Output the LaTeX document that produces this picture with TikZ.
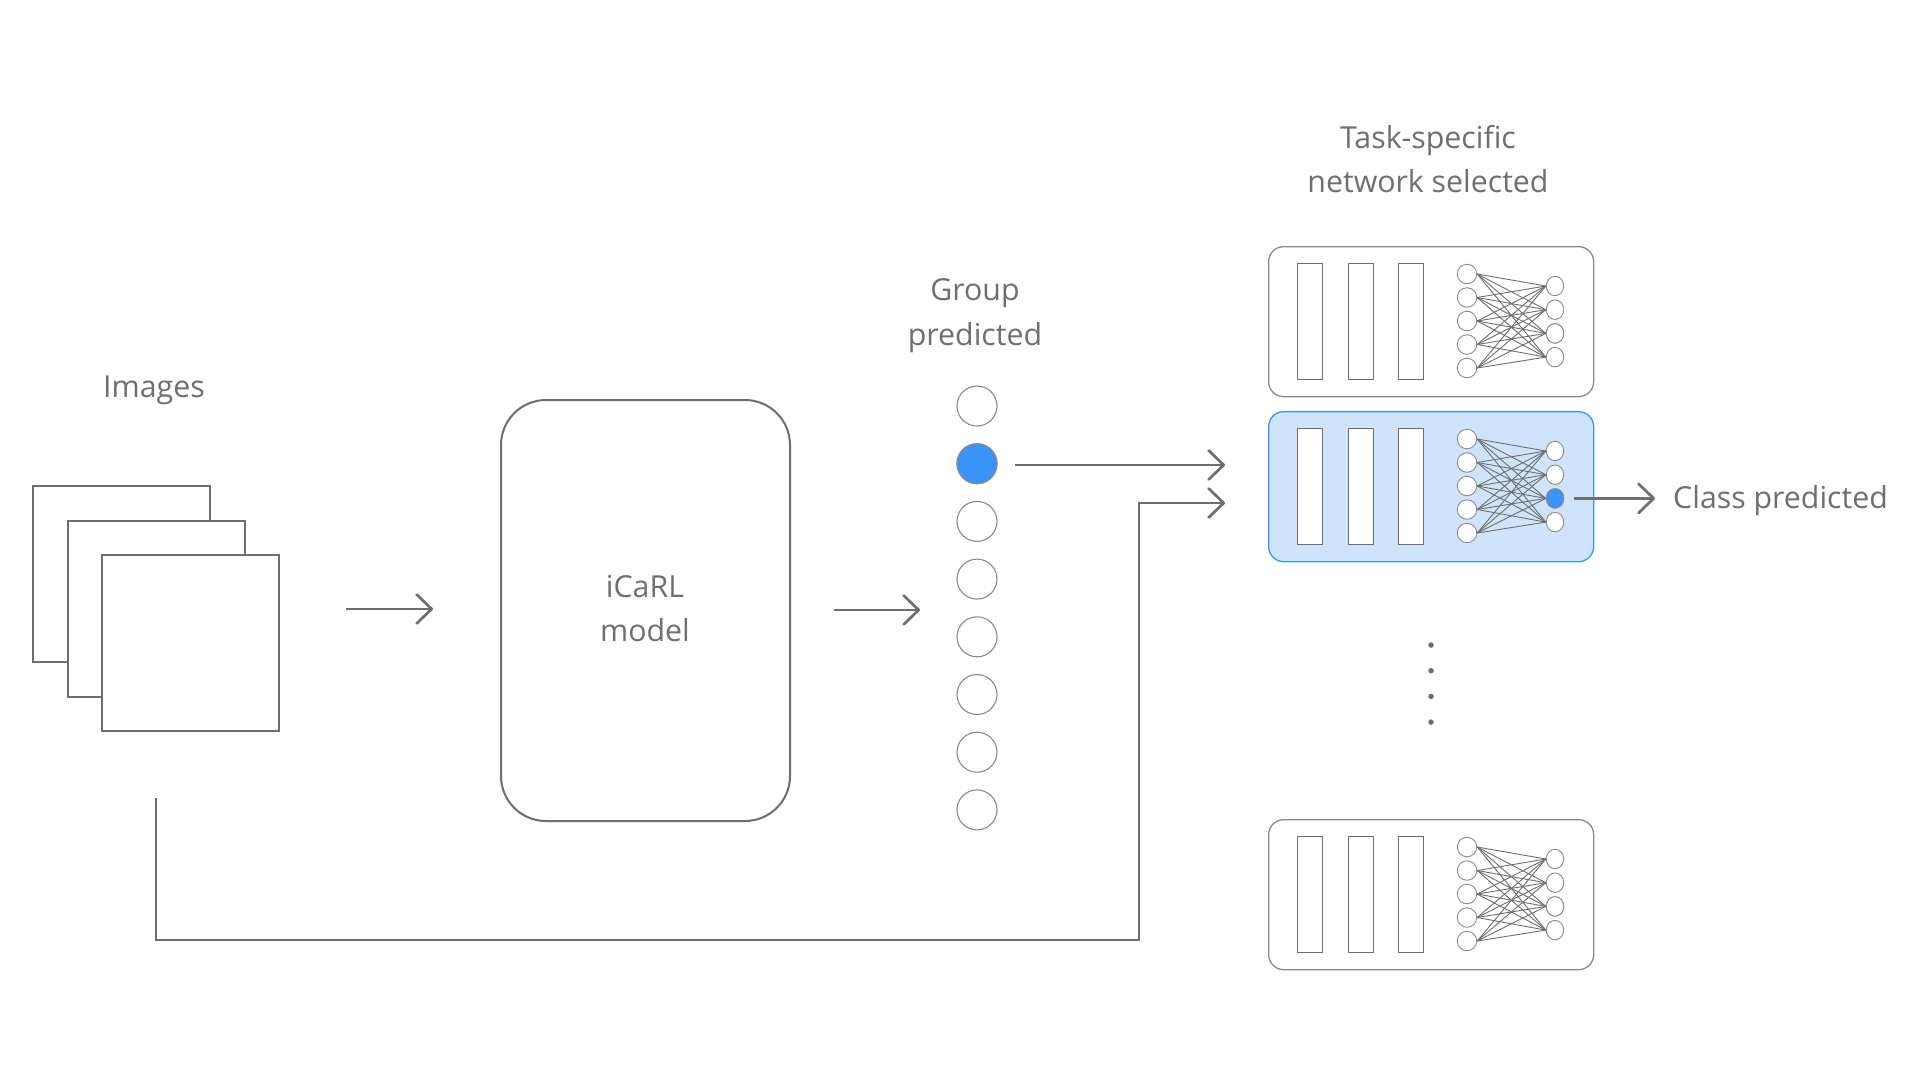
\documentclass[tikz,border=0pt]{standalone}
\usepackage{fontspec}
\setmainfont{Open Sans}
\usetikzlibrary{arrows.meta,shapes.geometric}
\definecolor{ink}{HTML}{6E6E6E}
\definecolor{txt}{HTML}{6F6F6F}
\definecolor{frame}{HTML}{8A8A8A}
\definecolor{selfill}{HTML}{CFE4FB}
\definecolor{seldraw}{HTML}{3D94F6}
\definecolor{hot}{HTML}{3A94F8}
\tikzset{
  lbl/.style={text=txt, font=\fontsize{30.3}{44}\selectfont, anchor=base, inner sep=0pt},
  imgsheet/.style={draw=ink, line width=2pt, fill=white, minimum width=177pt, minimum height=176pt, inner sep=0pt, anchor=north west},
  modelbox/.style={draw=ink, line width=2pt, rounded corners=45pt, minimum width=289pt, minimum height=421pt, inner sep=0pt, anchor=north west},
  flow/.style={draw=ink, line width=2.7pt, -{Straight Barb[length=15pt,width=29pt,round]}},
  route/.style={draw=ink, line width=2.7pt},
  grp/.style={circle, draw=frame, line width=1.1pt, fill=white, minimum size=40pt, inner sep=0pt},
  netframe/.style={draw=frame, line width=1.3pt, rounded corners=15pt, minimum width=325pt, minimum height=150pt, inner sep=0pt, anchor=north west},
  bar/.style={draw=ink, line width=1.4pt, fill=white, minimum width=25pt, minimum height=116pt, inner sep=0pt, anchor=north west},
  nin/.style={circle, draw=frame, line width=0.9pt, fill=white, minimum size=19.5pt, inner sep=0pt},
  nout/.style={ellipse, draw=frame, line width=0.9pt, fill=white, minimum width=17.5pt, minimum height=19.5pt, inner sep=0pt},
  wire/.style={draw=ink, line width=0.9pt},
  dotmark/.style={circle, fill=ink, minimum size=5.5pt, inner sep=0pt}
}
\newcommand{\netbox}[4]{%
  \node[netframe,#3] (#1) at (1268,#2) {};
  \foreach \k/\dx in {1/29,2/80,3/130}
    \node[bar] (#1-b\k) at (1268+\dx,#2+17) {};
  \foreach \i in {0,...,4}
    \node[nin] (#1-l\i) at (1467,#2+28+23.5*\i) {};
  \foreach \j in {0,...,3}
    \node[nout] (#1-r\j) at (1555,#2+40+23.7*\j) {};
  \node[nout,fill=#4] (#1-r2) at (1555,#2+40+23.7*2) {};
  \foreach \i in {0,...,4}
    \foreach \j in {0,...,3}
      \draw[wire] (#1-l\i.east) -- (#1-r\j.west);
}
\begin{document}
\begin{tikzpicture}[x=1pt,y=-1pt]
\useasboundingbox[fill=white] (0,0) rectangle (1920,1080);

% Images
\node[lbl] (imglbl) at (154,397) {Images};
\node[imgsheet] (img1) at (32,485) {};
\node[imgsheet] (img2) at (67,520) {};
\node[imgsheet] (img3) at (101,554) {};

% arrow 1
\coordinate (a1s) at (346,609);
\coordinate (a1e) at (433,609);
\draw[flow] (a1s) -- (a1e);

% iCaRL model
\node[modelbox] (icarl) at (500,399) {};
\node[lbl] (icarl1) at (645,597) {iCaRL};
\node[lbl] (icarl2) at (645,641) {model};

% arrow 2
\coordinate (a2s) at (834,610);
\coordinate (a2e) at (920,610);
\draw[flow] (a2s) -- (a2e);

% group predicted
\node[lbl] (grp1) at (975,300) {Group};
\node[lbl] (grp2) at (975,345) {predicted};
\foreach \i in {0,...,7}
  \node[grp] (g\i) at (977,406+57.7*\i) {};
\node[grp,fill=hot,draw=ink!80] (g1) at (977,463.7) {};

% networks
\node[lbl] (tsk1) at (1428,148) {Task-specific};
\node[lbl] (tsk2) at (1428,192) {network selected};
\netbox{netA}{246}{}{white}
\netbox{netB}{411}{fill=selfill,draw=seldraw}{hot}
\netbox{netC}{819}{}{white}

% dots
\foreach \i in {0,...,3}
  \node[dotmark] (d\i) at (1431,645+25.7*\i) {};

% arrow from selected group
\coordinate (a3s) at (1015,465);
\coordinate (a3e) at (1225,465);
\draw[flow] (a3s) -- (a3e);

% images route
\coordinate (r0) at (156,798);
\coordinate (r1) at (156,940);
\coordinate (r2) at (1139,940);
\coordinate (r3) at (1139,503);
\coordinate (r4) at (1225,503);
\draw[route] (r0) -- (r1) -- (r2) -- (r3) -- (r4);
\draw[flow] (r3) -- (r4);

% class predicted
\coordinate (a4e) at (1655,498.4);
\draw[flow, shorten <=10pt] (netB-r2) -- (a4e);
\node[lbl, anchor=base west] (cls) at (1673,508) {Class predicted};
\end{tikzpicture}
\end{document}
